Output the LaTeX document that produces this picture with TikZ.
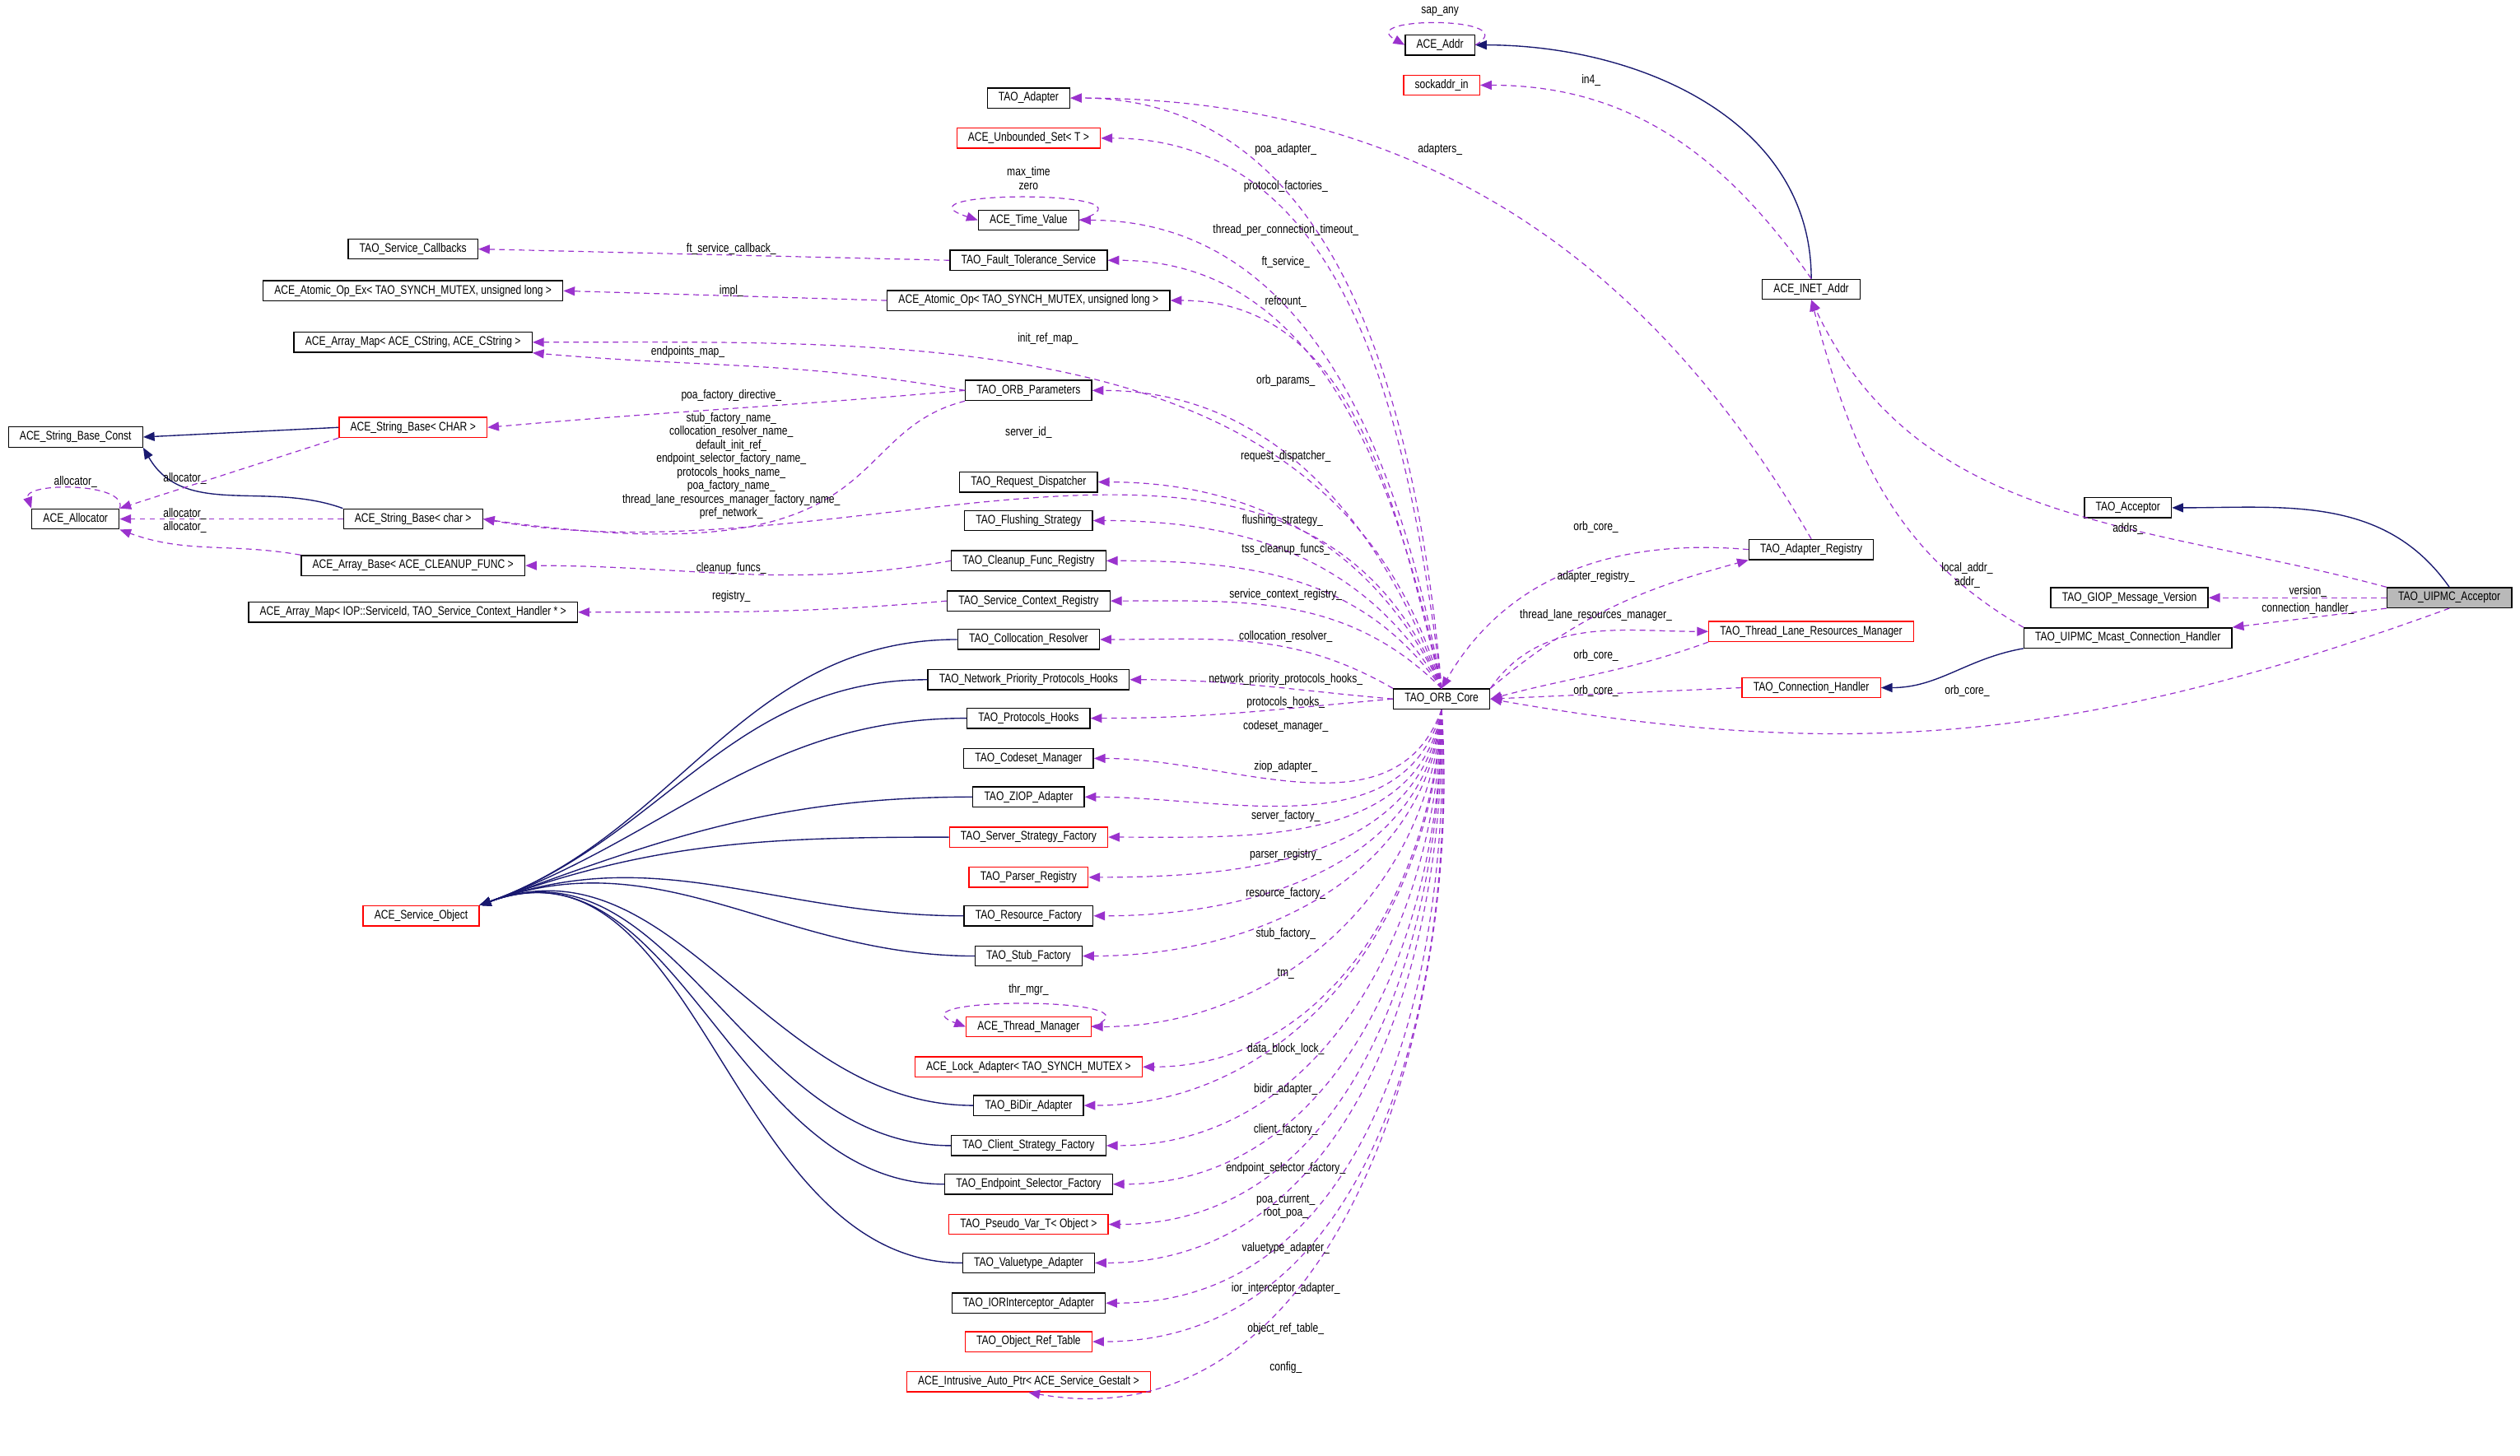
\documentclass[tikz,border=0pt]{standalone}
\usepackage{fontspec}
\setmainfont[FakeStretch=0.8]{Liberation Sans}
\usetikzlibrary{arrows.meta}
\definecolor{edgenavy}{HTML}{191970}
\definecolor{edgepurple}{HTML}{9A32CD}
\newcommand{\lt}{\textless}
\newcommand{\gt}{\textgreater}
\tikzset{
  cls/.style={draw=black, fill=white, inner xsep=4pt, inner ysep=0pt, minimum height=0.25cm, font=\fontsize{4.4}{4.8}\selectfont},
  redcls/.style={cls, draw=red},
  curcls/.style={cls, fill=gray!55},
  lbl/.style={font=\fontsize{4.4}{4.8}\selectfont, inner sep=0.5pt},
  inh/.style={draw=edgenavy, -{Triangle[length=4pt,width=3.2pt]}, line width=0.4pt},
  uses/.style={draw=edgepurple, dashed, dash pattern=on 2pt off 1.5pt, -{Triangle[length=4pt,width=3.2pt]}, line width=0.35pt}
}
\begin{document}
\begin{tikzpicture}[x=0.02cm, y=-0.02cm]
\useasboundingbox (0,0) rectangle (1568,906);

% right hand side
\node[cls] (addr) at (896,28) {ACE\_Addr};
\node[redcls] (sock) at (897,53) {sockaddr\_in};
\node[cls] (inet) at (1127,180) {ACE\_INET\_Addr};
\node[cls] (tacc) at (1324,316) {TAO\_Acceptor};
\node[cls] (areg) at (1127,342) {TAO\_Adapter\_Registry};
\node[cls] (giop) at (1325,372) {TAO\_GIOP\_Message\_Version};
\node[curcls] (acceptor) at (1524,372) {TAO\_UIPMC\_Acceptor};
\node[redcls] (tlrm) at (1127,393) {TAO\_Thread\_Lane\_Resources\_Manager};
\node[cls] (mcast) at (1324,397) {TAO\_UIPMC\_Mcast\_Connection\_Handler};
\node[redcls] (conn) at (1127,428) {TAO\_Connection\_Handler};
\node[cls] (core) at (897,435) {TAO\_ORB\_Core};

% middle column
\node[cls] (tadapter) at (640,61) {TAO\_Adapter};
\node[redcls] (uset) at (640,86) {ACE\_Unbounded\_Set\lt{} T \gt};
\node[cls] (tval) at (640,137) {ACE\_Time\_Value};
\node[cls] (ftserv) at (640,162) {TAO\_Fault\_Tolerance\_Service};
\node[cls] (atomic) at (640,187) {ACE\_Atomic\_Op\lt{} TAO\_SYNCH\_MUTEX, unsigned long \gt};
\node[cls] (params) at (640,243) {TAO\_ORB\_Parameters};
\node[cls] (rdisp) at (640,300) {TAO\_Request\_Dispatcher};
\node[cls] (flush) at (640,324) {TAO\_Flushing\_Strategy};
\node[cls] (cleanup) at (640,349) {TAO\_Cleanup\_Func\_Registry};
\node[cls] (scr) at (640,374) {TAO\_Service\_Context\_Registry};
\node[cls] (colloc) at (640,398) {TAO\_Collocation\_Resolver};
\node[cls] (nphooks) at (640,423) {TAO\_Network\_Priority\_Protocols\_Hooks};
\node[cls] (phooks) at (640,447) {TAO\_Protocols\_Hooks};
\node[cls] (codeset) at (640,472) {TAO\_Codeset\_Manager};
\node[cls] (ziop) at (640,496) {TAO\_ZIOP\_Adapter};
\node[redcls] (ssf) at (640,521) {TAO\_Server\_Strategy\_Factory};
\node[redcls] (parser) at (640,546) {TAO\_Parser\_Registry};
\node[cls] (resf) at (640,570) {TAO\_Resource\_Factory};
\node[cls] (stubf) at (640,595) {TAO\_Stub\_Factory};
\node[redcls] (thrmgr) at (640,639) {ACE\_Thread\_Manager};
\node[redcls] (lockad) at (640,664) {ACE\_Lock\_Adapter\lt{} TAO\_SYNCH\_MUTEX \gt};
\node[cls] (bidir) at (640,688) {TAO\_BiDir\_Adapter};
\node[cls] (csf) at (640,713) {TAO\_Client\_Strategy\_Factory};
\node[cls] (esf) at (640,737) {TAO\_Endpoint\_Selector\_Factory};
\node[redcls] (pseudo) at (640,762) {TAO\_Pseudo\_Var\_T\lt{} Object \gt};
\node[cls] (vtype) at (640,786) {TAO\_Valuetype\_Adapter};
\node[cls] (iorint) at (640,811) {TAO\_IORInterceptor\_Adapter};
\node[redcls] (oref) at (640,835) {TAO\_Object\_Ref\_Table};
\node[redcls] (gestalt) at (640,860) {ACE\_Intrusive\_Auto\_Ptr\lt{} ACE\_Service\_Gestalt \gt};

% left hand side
\node[cls] (callbacks) at (257,155) {TAO\_Service\_Callbacks};
\node[cls] (atomicex) at (257,181) {ACE\_Atomic\_Op\_Ex\lt{} TAO\_SYNCH\_MUTEX, unsigned long \gt};
\node[cls] (amap) at (257,213) {ACE\_Array\_Map\lt{} ACE\_CString, ACE\_CString \gt};
\node[cls] (strconst) at (47,272) {ACE\_String\_Base\_Const};
\node[redcls] (strCHAR) at (257,266) {ACE\_String\_Base\lt{} CHAR \gt};
\node[cls] (alloc) at (47,323) {ACE\_Allocator};
\node[cls] (strchar) at (257,323) {ACE\_String\_Base\lt{} char \gt};
\node[cls] (abase) at (257,352) {ACE\_Array\_Base\lt{} ACE\_CLEANUP\_FUNC \gt};
\node[cls] (amapiop) at (257,381) {ACE\_Array\_Map\lt{} IOP::ServiceId, TAO\_Service\_Context\_Handler * \gt};
\node[redcls] (svc) at (262,570) {ACE\_Service\_Object};

% inheritance
\draw[inh] (inet.north) to[out=90,in=0] (addr.east);
\draw[inh] (acceptor.north) to[out=125,in=0] (tacc.east);
\draw[inh] (mcast.south west) to[out=190,in=0] (conn.east);
\draw[inh] (strCHAR.west) -- (strconst.east);
\draw[inh] (strchar.north west) to[out=160,in=-60] (strconst.south east);
\foreach \c in {colloc,nphooks,phooks,ziop,ssf,resf,stubf,bidir,csf,esf,vtype}
  \draw[inh] (\c.west) to[out=180,in=20] (svc.north east);

% ORB core members above
\draw[uses] (core.north) to[out=95,in=0] (tadapter.east);
\draw[uses] (core.north) to[out=97,in=0] (uset.east);
\draw[uses] (core.north) to[out=100,in=0] (tval.east);
\draw[uses] (core.north) to[out=102,in=0] (ftserv.east);
\draw[uses] (core.north) to[out=104,in=0] (atomic.east);
\draw[uses] (core.north) to[out=106,in=0] (amap.east);
\draw[uses] (core.north) to[out=110,in=0] (params.east);
\draw[uses] (core.north) to[out=112,in=-10] (strchar.east);
\draw[uses] (core.north) to[out=115,in=0] (rdisp.east);
\draw[uses] (core.north) to[out=120,in=0] (flush.east);
\draw[uses] (core.north) to[out=125,in=0] (cleanup.east);
\draw[uses] (core.north) to[out=135,in=0] (scr.east);
\draw[uses] (core.north west) to[out=150,in=0] (colloc.east);
\draw[uses] (core.west) to[out=175,in=0] (nphooks.east);
\draw[uses] (core.west) to[out=185,in=0] (phooks.east);
% ORB core members below
\draw[uses] (core.south) to[out=-110,in=0] (codeset.east);
\draw[uses] (core.south) to[out=-105,in=0] (ziop.east);
\draw[uses] (core.south) to[out=-100,in=0] (ssf.east);
\draw[uses] (core.south) to[out=-98,in=0] (parser.east);
\draw[uses] (core.south) to[out=-96,in=0] (resf.east);
\draw[uses] (core.south) to[out=-95,in=0] (stubf.east);
\draw[uses] (core.south) to[out=-94,in=0] (thrmgr.east);
\draw[uses] (core.south) to[out=-93,in=0] (lockad.east);
\draw[uses] (core.south) to[out=-92,in=0] (bidir.east);
\draw[uses] (core.south) to[out=-91,in=0] (csf.east);
\draw[uses] (core.south) to[out=-90,in=0] (esf.east);
\draw[uses] (core.south) to[out=-90,in=0] (pseudo.east);
\draw[uses] (core.south) to[out=-89,in=0] (vtype.east);
\draw[uses] (core.south) to[out=-88,in=0] (iorint.east);
\draw[uses] (core.south) to[out=-87,in=0] (oref.east);
\draw[uses] (core.south) to[out=-86,in=-10] (gestalt.south);

\node[lbl] at (800,93) {poa\_adapter\_};
\node[lbl] at (800,116) {protocol\_factories\_};
\node[lbl] at (800,143) {thread\_per\_connection\_timeout\_};
\node[lbl] at (800,163) {ft\_service\_};
\node[lbl] at (800,188) {refcount\_};
\node[lbl] at (652,211) {init\_ref\_map\_};
\node[lbl] at (800,237) {orb\_params\_};
\node[lbl] at (640,269) {server\_id\_};
\node[lbl] at (800,284) {request\_dispatcher\_};
\node[lbl] at (798,324) {flushing\_strategy\_};
\node[lbl] at (800,342) {tss\_cleanup\_funcs\_};
\node[lbl] at (800,370) {service\_context\_registry\_};
\node[lbl] at (800,396) {collocation\_resolver\_};
\node[lbl] at (800,423) {network\_priority\_protocols\_hooks\_};
\node[lbl] at (800,437) {protocols\_hooks\_};
\node[lbl] at (800,452) {codeset\_manager\_};
\node[lbl] at (800,477) {ziop\_adapter\_};
\node[lbl] at (800,508) {server\_factory\_};
\node[lbl] at (800,532) {parser\_registry\_};
\node[lbl] at (800,556) {resource\_factory\_};
\node[lbl] at (800,581) {stub\_factory\_};
\node[lbl] at (800,606) {tm\_};
\node[lbl] at (800,653) {data\_block\_lock\_};
\node[lbl] at (800,678) {bidir\_adapter\_};
\node[lbl] at (800,703) {client\_factory\_};
\node[lbl] at (800,727) {endpoint\_selector\_factory\_};
\node[lbl, align=center] at (800,751) {poa\_current\_\\root\_poa\_};
\node[lbl] at (800,777) {valuetype\_adapter\_};
\node[lbl] at (800,802) {ior\_interceptor\_adapter\_};
\node[lbl] at (800,827) {object\_ref\_table\_};
\node[lbl] at (800,851) {config\_};

% self loops
\draw[uses] (tval.east) .. controls (730,118) and (550,118) .. (tval.west);
\node[lbl, align=center] at (640,111) {max\_time\\zero};
\draw[uses] (thrmgr.east) .. controls (730,620) and (550,620) .. (thrmgr.west);
\node[lbl] at (640,616) {thr\_mgr\_};
\draw[uses] (addr.east) .. controls (950,10) and (842,10) .. (addr.west);
\node[lbl] at (896,7) {sap\_any};
\draw[uses] (alloc.north east) .. controls (80,300) and (14,300) .. (alloc.north west);
\node[lbl] at (47,300) {allocator\_};

% middle to left members
\draw[uses] (ftserv.west) -- (callbacks.east);
\node[lbl] at (455,155) {ft\_service\_callback\_};
\draw[uses] (atomic.west) -- (atomicex.east);
\node[lbl] at (455,181) {impl\_};
\draw[uses] (params.west) to[out=170,in=-5] (amap.south east);
\node[lbl] at (428,219) {endpoints\_map\_};
\draw[uses] (params.west) to[out=185,in=5] (strCHAR.east);
\node[lbl] at (455,246) {poa\_factory\_directive\_};
\draw[uses] (params.south west) .. controls (520,270) and (560,360) .. (strchar.east);
\node[lbl, align=center] at (455,290) {stub\_factory\_name\_\\collocation\_resolver\_name\_\\default\_init\_ref\_\\endpoint\_selector\_factory\_name\_\\protocols\_hooks\_name\_\\poa\_factory\_name\_\\thread\_lane\_resources\_manager\_factory\_name\_\\pref\_network\_};
\draw[uses] (cleanup.west) to[out=190,in=0] (abase.east);
\node[lbl] at (455,354) {cleanup\_funcs\_};
\draw[uses] (scr.west) to[out=185,in=0] (amapiop.east);
\node[lbl] at (455,371) {registry\_};
\draw[uses] (strCHAR.south west) -- (alloc.north east);
\node[lbl] at (115,298) {allocator\_};
\draw[uses] (strchar.west) -- (alloc.east);
\node[lbl, align=center] at (115,324) {allocator\_\\allocator\_};
\draw[uses] (abase.north west) to[out=170,in=-20] (alloc.south east);

% right hand side members
\draw[uses] (inet.north) to[out=125,in=0] (sock.east);
\node[lbl] at (990,50) {in4\_};
\draw[uses] (areg.north) to[out=120,in=0] (tadapter.east);
\node[lbl] at (896,93) {adapters\_};
\draw[uses] (areg.west) to[out=175,in=60] (core.north);
\node[lbl] at (993,328) {orb\_core\_};
\draw[uses] (core.north east) to[out=40,in=195] (areg.south west);
\node[lbl] at (993,359) {adapter\_registry\_};
\draw[uses] (core.north east) to[out=55,in=180] (tlrm.west);
\node[lbl] at (993,383) {thread\_lane\_resources\_manager\_};
\draw[uses] (tlrm.south west) to[out=200,in=15] (core.east);
\node[lbl] at (993,408) {orb\_core\_};
\draw[uses] (conn.west) -- (core.east);
\node[lbl] at (993,430) {orb\_core\_};
\draw[uses] (mcast.north west) to[out=150,in=-75] (inet.south);
\node[lbl, align=center] at (1224,358) {local\_addr\_\\addr\_};
\draw[uses] (acceptor.north west) to[out=165,in=-65] (inet.south);
\node[lbl] at (1324,329) {addrs\_};
\draw[uses] (acceptor.west) -- (giop.east);
\node[lbl] at (1436,368) {version\_};
\draw[uses] (acceptor.south west) -- (mcast.north east);
\node[lbl] at (1436,379) {connection\_handler\_};
\draw[uses] (acceptor.south) to[out=200,in=-10] (core.east);
\node[lbl] at (1224,430) {orb\_core\_};
\end{tikzpicture}
\end{document}
